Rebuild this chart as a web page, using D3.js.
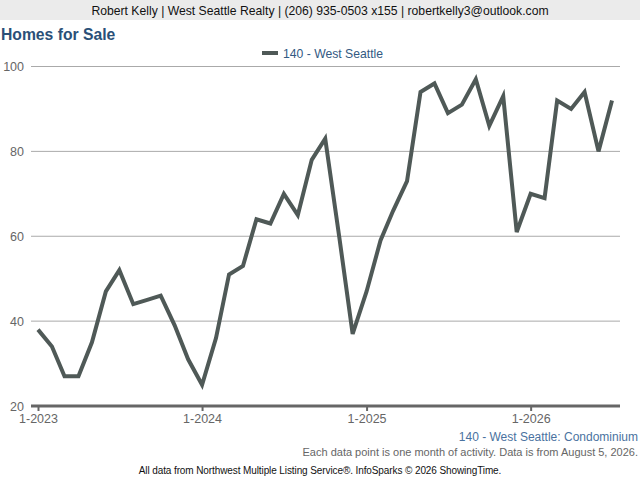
<!DOCTYPE html>
<html>
<head>
<meta charset="utf-8">
<script src="https://cdn.jsdelivr.net/npm/d3@7"></script>
<style>
  html, body { margin: 0; padding: 0; background: #fff; }
  svg { display: block; font-family: "Liberation Sans", Arial, sans-serif; }
</style>
</head>
<body>
<svg id="chart" width="640" height="480"></svg>
<script>
// monthly values, Jan 2023 .. Jul 2026
var startMonth = new Date(2023, 0, 1);
var values2023 = [38, 34, 27, 27, 35, 47, 52, 44, 45, 46, 39, 31];
var values2024 = [25, 36, 51, 53, 64, 63, 70, 65, 78, 83, 60, 37];
var values2025 = [47, 59, 66, 73, 94, 96, 89, 91, 97, 86, 93, 61];
var values2026 = [70, 69, 92, 90, 94, 80, 92];
var yTicks = [20, 40, 60, 80, 100];
var xTickYears = [2023, 2024, 2025, 2026];
var seriesName = '140 - West Seattle';

var values = values2023.concat(values2024, values2025, values2026);
var data = values.map(function(v, i) {
    return { date: d3.timeMonth.offset(startMonth, i), value: v };
});

var svg = d3.select('#chart'),
    plotLeft = 31,
    plotRight = 620,
    lineColor = '#4f5957';

// header band
svg.append('rect')
    .attr('x', 0).attr('y', 0).attr('width', 640).attr('height', 20)
    .attr('fill', '#ebebeb');
svg.append('text')
    .attr('x', 320).attr('y', 15)
    .attr('text-anchor', 'middle')
    .attr('font-size', 12.2)
    .attr('fill', '#111')
    .text('Robert Kelly | West Seattle Realty | (206) 935-0503 x155 | robertkelly3@outlook.com');

svg.append('text')
    .attr('x', 1).attr('y', 40)
    .attr('font-size', 15.7)
    .attr('font-weight', 'bold')
    .attr('fill', '#2a5078')
    .text('Homes for Sale');

// legend
svg.append('line')
    .attr('x1', 262).attr('x2', 278).attr('y1', 53).attr('y2', 53)
    .attr('stroke', lineColor).attr('stroke-width', 4);
svg.append('text')
    .attr('x', 283).attr('y', 57.5)
    .attr('font-size', 12.2)
    .attr('fill', '#335a82')
    .text(seriesName);

var x = d3.scaleTime()
    .domain([startMonth, data[data.length - 1].date])
    .range([38, 612]);

var y = d3.scaleLinear()
    .domain([20, 100])
    .range([406, 66.5]);

// grid
svg.append('g')
    .selectAll('line')
    .data(yTicks.slice(1))
    .enter().append('line')
        .attr('x1', plotLeft).attr('x2', plotRight)
        .attr('y1', function(d) { return y(d); })
        .attr('y2', function(d) { return y(d); })
        .attr('stroke', '#aaa')
        .attr('stroke-width', 1);

// y labels
svg.append('g')
    .selectAll('text')
    .data(yTicks)
    .enter().append('text')
        .attr('x', 24)
        .attr('y', function(d) { return y(d) + 4.5; })
        .attr('text-anchor', 'end')
        .attr('font-size', 12.5)
        .attr('fill', '#666')
        .text(function(d) { return d; });

// x axis
var xAxis = d3.axisBottom(x)
    .tickValues(xTickYears.map(function(yr) { return new Date(yr, 0, 1); }))
    .tickSize(5)
    .tickSizeOuter(0)
    .tickPadding(3)
    .tickFormat(d3.timeFormat('1-%Y'));

var axisG = svg.append('g')
    .attr('transform', 'translate(0,' + y(20) + ')')
    .call(xAxis);
axisG.select('.domain').remove();
axisG.selectAll('.tick line')
    .attr('stroke', '#666').attr('stroke-width', 2);
axisG.selectAll('.tick text')
    .attr('font-size', 12.5)
    .attr('font-family', '"Liberation Sans", Arial, sans-serif')
    .attr('fill', '#666');
axisG.append('line')
    .attr('x1', plotLeft).attr('x2', plotRight)
    .attr('stroke', '#666').attr('stroke-width', 3);

// series
var line = d3.line()
    .x(function(d) { return x(d.date); })
    .y(function(d) { return y(d.value); });

svg.append('path')
    .datum(data)
    .attr('d', line)
    .attr('fill', 'none')
    .attr('stroke', lineColor)
    .attr('stroke-width', 4)
    .attr('stroke-linejoin', 'miter');

// footer notes
svg.append('text')
    .attr('x', 638).attr('y', 441)
    .attr('text-anchor', 'end')
    .attr('font-size', 12)
    .attr('fill', '#4a72a0')
    .text(seriesName + ': Condominium');
svg.append('text')
    .attr('x', 638).attr('y', 456)
    .attr('text-anchor', 'end')
    .attr('font-size', 11)
    .attr('fill', '#666')
    .text('Each data point is one month of activity. Data is from August 5, 2026.');
svg.append('text')
    .attr('x', 320).attr('y', 474)
    .attr('text-anchor', 'middle')
    .attr('font-size', 10)
    .attr('letter-spacing', -0.1)
    .attr('fill', '#111')
    .text('All data from Northwest Multiple Listing Service\u00ae. InfoSparks \u00a9 2026 ShowingTime.');
</script>
</body>
</html>
